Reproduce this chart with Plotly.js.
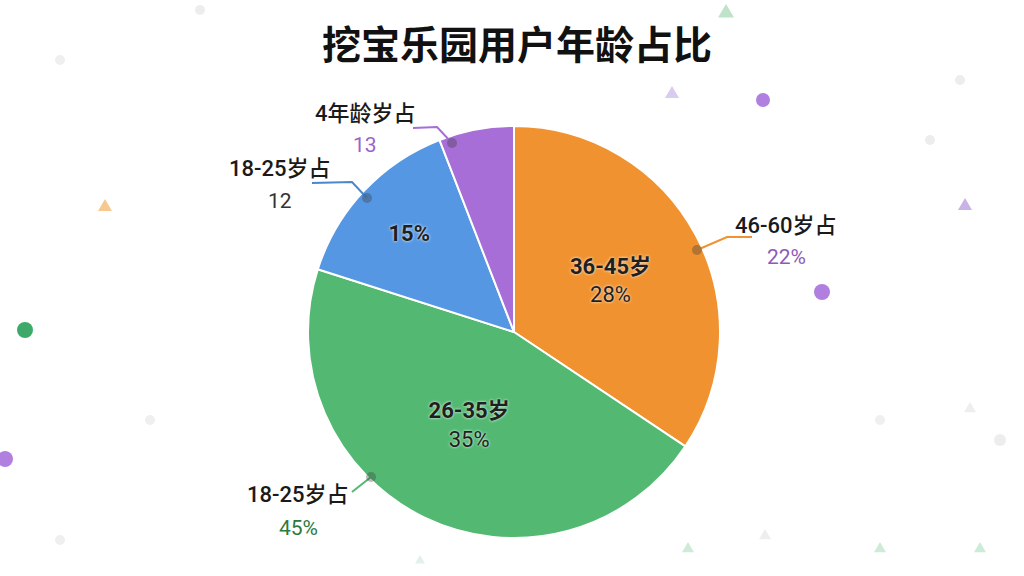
<!DOCTYPE html>
<html>
<head>
<meta charset="utf-8">
<script src="https://cdn.plot.ly/plotly-3.0.1.min.js"></script>
<style>html,body{margin:0;padding:0;background:#fff;}#chart{width:1024px;height:576px;}</style>
</head>
<body>
<div id="chart"></div>
<script>
// ---- data ----
const sliceNames = ["36-45岁", "26-35岁", "18-25岁", "4年龄岁"];
const sliceValues = [34.4, 45.6, 14.2, 5.9];
const insideLabels = ["<b>36-45岁</b><br>28%", "<b>26-35岁</b><br>35%", "<b>15%</b>", ""];
const sliceColors = ["#F0922F", "#52B872", "#5597E2", "#A66ED6"];
const outerNames = ["46-60岁占", "18-25岁占", "18-25岁占", "4年龄岁占"];
const outerValues = ["22%", "45%", "12", "13"];
const outerValueColors = ["#8E5BB8", "#2C7A3E", "#333333", "#9A64C8"];
const titleText = "挖宝乐园用户年龄占比";

const W = 1024, H = 576;
const px = x => x / W, py = y => 1 - y / H;
const FONT = "Roboto, 'Noto Sans CJK SC', sans-serif";

// outer label positions (pixel) and leader lines (pixel)
const outerPos = [[786, 225, 257], [298, 494, 528], [280, 168, 201], [365, 113, 145]];
const leaders = [
  [[697, 250], [727, 237], [752, 237]],
  [[371, 477], [352, 492]],
  [[367, 198], [352, 182], [312, 183]],
  [[452, 143], [437, 127], [413, 128]]
];
const leaderColors = ["#F0922F", "#52B872", "#4A87CC", "#A66ED6"];

const annotations = [];
outerNames.forEach((n, i) => {
  const [x, y1, y2] = outerPos[i];
  annotations.push({xref: 'paper', yref: 'paper', x: px(x), y: py(y1), text: n, showarrow: false,
    xanchor: 'center', yanchor: 'middle', font: {family: FONT, size: 22, color: '#1a1a1a', weight: 500}});
  annotations.push({xref: 'paper', yref: 'paper', x: px(x), y: py(y2), text: outerValues[i], showarrow: false,
    xanchor: 'center', yanchor: 'middle', font: {family: FONT, size: 21, color: outerValueColors[i]}});
});

const shapes = [];
leaders.forEach((pts, i) => {
  const path = pts.map((p, k) => (k ? 'L' : 'M') + px(p[0]) + ',' + py(p[1])).join(' ');
  shapes.push({type: 'path', xref: 'paper', yref: 'paper', path: path, line: {color: leaderColors[i], width: 2}});
  shapes.push({type: 'circle', xref: 'paper', yref: 'paper',
    x0: px(pts[0][0] - 5), x1: px(pts[0][0] + 5), y0: py(pts[0][1] + 5), y1: py(pts[0][1] - 5),
    fillcolor: 'rgba(60,60,60,0.35)', line: {width: 0}});
});

// background decoration
const dots = [[763, 100, 7, '#B07FE0'], [822, 292, 8, '#B07FE0'], [25, 330, 8, '#3DAA6A'], [5, 459, 8, '#B07FE0'],
              [200, 10, 5, '#EDEDED'], [930, 140, 5, '#EDEDED'], [960, 80, 5, '#EDEDED'], [60, 60, 5, '#EFEFEF'],
              [150, 420, 5, '#EFEFEF'], [880, 420, 5, '#EFEFEF'], [1000, 440, 6, '#EDEDED'], [60, 540, 5, '#EFEFEF']];
dots.forEach(d => shapes.push({type: 'circle', xref: 'paper', yref: 'paper', layer: 'below',
  x0: px(d[0] - d[2]), x1: px(d[0] + d[2]), y0: py(d[1] + d[2]), y1: py(d[1] - d[2]),
  fillcolor: d[3], line: {width: 0}}));
const tris = [[105, 206, 7, '#F6C98E'], [965, 205, 7, '#C9B2E6'], [726, 12, 8, '#BFE3C9'], [672, 93, 7, '#D9CCEE'],
              [688, 548, 6, '#CDEBD6'], [880, 548, 6, '#CDEBD6'], [980, 548, 6, '#CDEBD6'], [420, 560, 5, '#E3F2E8'],
              [970, 408, 6, '#EEEEEE'], [765, 535, 6, '#EEEEEE']];
tris.forEach(t => {
  const [x, y, s, c] = t;
  const path = 'M' + px(x) + ',' + py(y - s) + ' L' + px(x + s) + ',' + py(y + s * 0.7) + ' L' + px(x - s) + ',' + py(y + s * 0.7) + ' Z';
  shapes.push({type: 'path', xref: 'paper', yref: 'paper', layer: 'below', path: path, fillcolor: c, line: {width: 0}});
});

const CX = 514, CY = 332, R = 206;
const pie = {
  type: 'pie',
  labels: sliceNames,
  values: sliceValues,
  text: insideLabels,
  textinfo: 'text',
  hoverinfo: 'label+percent',
  textposition: 'inside',
  insidetextorientation: 'horizontal',
  sort: false,
  direction: 'clockwise',
  rotation: 0,
  marker: {colors: sliceColors, line: {color: '#ffffff', width: 2}},
  textfont: {family: FONT, size: 22, color: '#1f1f1f', shadow: '0 0 3px #ffffff'},
  domain: {x: [px(CX - R), px(CX + R)], y: [py(CY + R), py(CY - R)]},
  showlegend: false
};

const layout = {
  width: W, height: H,
  margin: {l: 0, r: 0, t: 0, b: 0},
  paper_bgcolor: '#ffffff',
  showlegend: false,
  title: {text: titleText, x: px(517), xanchor: 'center', y: py(45), yanchor: 'middle', yref: 'container',
    font: {family: "'Noto Sans CJK SC', sans-serif", size: 39, color: '#111111', weight: 'bold'}},
  annotations: annotations,
  shapes: shapes
};

Plotly.newPlot('chart', [pie], layout, {staticPlot: true});
</script>
</body>
</html>
